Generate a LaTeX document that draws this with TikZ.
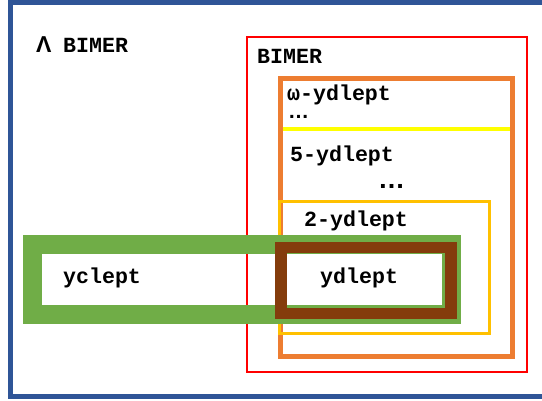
\documentclass[tikz,border=0pt]{standalone}
\usepackage{fontspec}
\setmainfont{Liberation Mono}
\newfontfamily\symf{Liberation Sans}
\definecolor{frameblue}{RGB}{47,85,151}
\definecolor{boxorange}{RGB}{237,125,49}
\definecolor{boxgold}{RGB}{255,192,0}
\definecolor{boxgreen}{RGB}{112,173,71}
\definecolor{boxbrown}{RGB}{132,60,12}
\definecolor{lineyellow}{RGB}{255,255,0}
\tikzset{
  blueframe/.style={draw=frameblue,line width=5pt},
  redbox/.style={draw=red,line width=2.8pt},
  orangebox/.style={draw=boxorange,line width=5pt},
  yellowline/.style={draw=lineyellow,line width=4pt},
  goldbox/.style={draw=boxgold,line width=3pt},
  greenbox/.style={draw=boxgreen,line width=19pt},
  brownbox/.style={draw=boxbrown,line width=11.5pt},
  lbl/.style={anchor=base west,inner sep=0pt,font=\fontsize{21.6}{24}\selectfont\bfseries},
  dots/.style={anchor=base west,inner sep=0pt,font=\symf\fontsize{21}{24}\selectfont\bfseries},
}
\begin{document}
\begin{tikzpicture}[x=1pt,y=-1pt]
\useasboundingbox (0,0) rectangle (542,400);
\fill[white] (0,0) rectangle (542,400);
\draw[blueframe] (10,2) rectangle (560,396);
\draw[redbox] (247,37) rectangle (527,372);
\draw[orangebox] (280,78) rectangle (512.5,356);
\draw[yellowline] (282.5,129) -- (510,129);
\draw[goldbox] (279.5,201.5) rectangle (489,333);
\draw[greenbox] (32,244) rectangle (451.5,314);
\draw[brownbox] (281,247.5) rectangle (451,313.5);
\node[anchor=base west,inner sep=0pt,font=\symf\fontsize{23}{26}\selectfont\bfseries] (lam) at (36,52.5) {Λ};
\node[lbl] (allb) at (63,52) {BIMER};
\node[lbl] (bimer) at (257,63) {BIMER};
\node[lbl] (omega) at (287,100) {ω-ydlept};
\node[dots] (d1) at (288,118.5) {…};
\node[lbl] (five) at (290,161) {5-ydlept};
\node[dots,font=\symf\fontsize{27}{30}\selectfont\bfseries] (d2) at (378,188) {…};
\node[lbl] (two) at (304,226) {2-ydlept};
\node[lbl] (ycl) at (63,283) {yclept};
\node[lbl] (ydl) at (320,283) {ydlept};
\end{tikzpicture}
\end{document}
